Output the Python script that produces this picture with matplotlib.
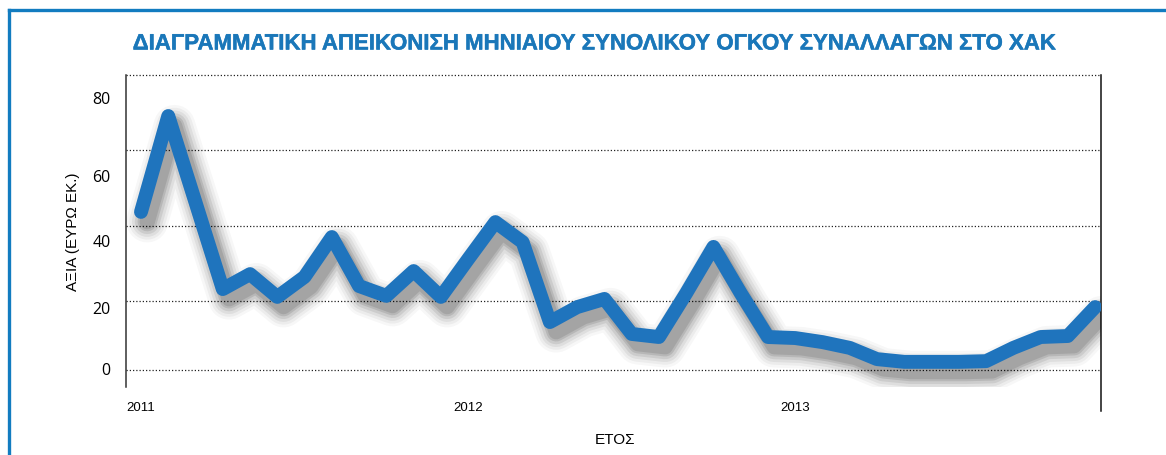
import matplotlib
matplotlib.use("Agg")
import matplotlib.pyplot as plt
import matplotlib.patheffects as pe
from matplotlib.lines import Line2D

# ---------------- data ----------------
months = list(range(36))  # Jan 2011 .. Dec 2013
values = [46.5, 74.7, 49.3, 23.8, 28.2, 21.5, 27.4, 39.1, 24.7, 21.8, 29.1, 21.5,
          32.6, 43.5, 37.6, 14.1, 18.5, 20.9, 10.6, 9.7, 22.6, 36.2, 22.6, 9.7,
          9.4, 8.2, 6.5, 3.2, 2.4, 2.4, 2.4, 2.6, 6.5, 9.7, 10.0, 18.5]
year_ticks = [0, 12, 24]
year_labels = ["2011", "2012", "2013"]
y_tick_labels = ["0", "20", "40", "60", "80"]
title = "ΔΙΑΓΡΑΜΜΑΤΙΚΗ ΑΠΕΙΚΟΝΙΣΗ ΜΗΝΙΑΙΟΥ ΣΥΝΟΛΙΚΟΥ ΟΓΚΟΥ ΣΥΝΑΛΛΑΓΩΝ ΣΤΟ ΧΑΚ"
xlabel = "ΕΤΟΣ"
ylabel = "ΑΞΙΑ (ΕΥΡΩ ΕΚ.)"

# ---------------- layout / style ----------------
W, H, DPI = 1166, 456, 100
LINE_BLUE = "#1f74bd"
TITLE_BLUE = "#1a77b9"
FRAME_BLUE = "#127cc0"

plt.rcParams['font.family'] = ['Liberation Sans Narrow', 'Liberation Sans', 'DejaVu Sans']

fig = plt.figure(figsize=(W / DPI, H / DPI), dpi=DPI)

# frame (top and left blue border)
fig.add_artist(Line2D([9 / W, 1.0], [1 - 11 / H, 1 - 11 / H], color=FRAME_BLUE, lw=2.4,
                      transform=fig.transFigure))
fig.add_artist(Line2D([9 / W, 9 / W], [0, 1 - 11 / H], color=FRAME_BLUE, lw=2.4,
                      transform=fig.transFigure))

ax_left, ax_right = 126 / W, 1101 / W
ax_top, ax_bot = 1 - 76 / H, 1 - 388 / H
ax = fig.add_axes([ax_left, ax_bot, ax_right - ax_left, ax_top - ax_bot])
ax_h_px = 388 - 76

px_per_unit = 3.4
ymax = (371 - 76) / px_per_unit
ymin = (371 - 388) / px_per_unit
ax.set_ylim(ymin, ymax)
px_per_month = 27.26
ax.set_xlim((126 - 141) / px_per_month, (1101 - 141) / px_per_month)

for s in ax.spines.values():
    s.set_visible(False)

# gridlines (dotted)
grid_pos = [(371 - p) / px_per_unit for p in (371, 302, 227, 151, 76)]
for g in grid_pos:
    ax.axhline(g, color="#222222", lw=0.9, ls=(0, (1, 1.6)), zorder=1, clip_on=False)

# vertical axis lines
ax.add_line(Line2D([0, 0], [0, 1], color="#333333", lw=1.1,
                   transform=ax.transAxes, clip_on=False))
ax.add_line(Line2D([1, 1], [-(412 - 388) / ax_h_px, 1], color="#111111", lw=1.1,
                   transform=ax.transAxes, clip_on=False))

# shadow + line
shadow_effects = []
for lw, a in [(30, 0.03), (26, 0.045), (22, 0.06), (18, 0.08), (14, 0.10), (11, 0.10)]:
    shadow_effects.append(pe.SimpleLineShadow(offset=(4.5, -7), shadow_color="#000000",
                                              alpha=a, linewidth=lw))
shadow_effects.append(pe.Normal())
ax.plot(months, values, color=LINE_BLUE, lw=10, solid_joinstyle="round",
        solid_capstyle="round", zorder=3, path_effects=shadow_effects)

# y tick labels (placed where the reference prints them)
label_pos = [(371 - p) / px_per_unit for p in (369, 308, 241, 176, 98)]
ax.set_yticks(label_pos)
ax.set_yticklabels(y_tick_labels, fontsize=11.5, family=['Open Sans', 'DejaVu Sans'])
ax.tick_params(axis='y', length=0, pad=11)

ax.set_xticks(year_ticks)
ax.set_xticklabels(year_labels, fontsize=9.5)
ax.tick_params(axis='x', length=0, pad=10)

fig.text(615 / W, 1 - 440 / H, xlabel, ha="center", va="center", fontsize=11)
ax.set_ylabel(ylabel, fontsize=11, labelpad=9)

fig.text(595 / W, 1 - 45 / H, title, ha="center", va="center", color=TITLE_BLUE,
         fontsize=16, fontweight="bold",
         path_effects=[pe.withStroke(linewidth=0.35, foreground=TITLE_BLUE)])

fig.savefig("out.png", dpi=DPI)
